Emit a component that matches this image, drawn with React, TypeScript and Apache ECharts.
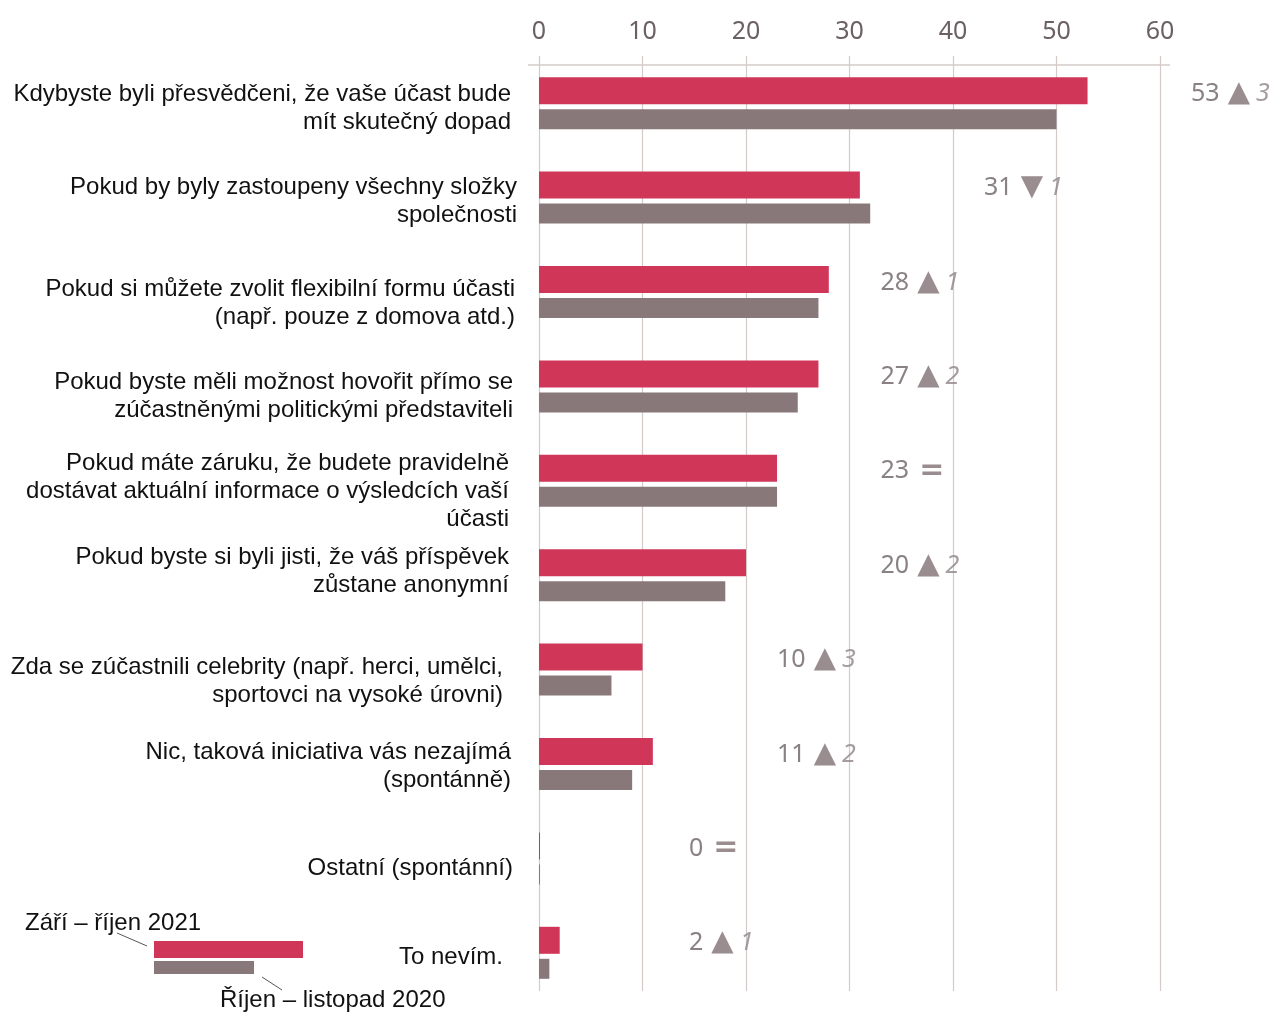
import React, { useEffect, useRef } from "react";
import * as echarts from "echarts";

const categories = [
  "Kdybyste byli přesvědčeni, že vaše účast bude\nmít skutečný dopad",
  "Pokud by byly zastoupeny všechny složky\nspolečnosti",
  "Pokud si můžete zvolit flexibilní formu účasti\n(např. pouze z domova atd.)",
  "Pokud byste měli možnost hovořit přímo se\nzúčastněnými politickými představiteli",
  "Pokud máte záruku, že budete pravidelně\ndostávat aktuální informace o výsledcích vaší\núčasti",
  "Pokud byste si byli jisti, že váš příspěvek\nzůstane anonymní",
  "Zda se zúčastnili celebrity (např. herci, umělci,\nsportovci na vysoké úrovni)",
  "Nic, taková iniciativa vás nezajímá\n(spontánně)",
  "Ostatní (spontánní)",
  "To nevím.",
];
const values2021 = [53, 31, 28, 27, 23, 20, 10, 11, 0, 2];
const values2020 = [50, 32, 27, 25, 23, 18, 7, 9, 0, 1];
const seriesNames = ["Září – říjen 2021", "Říjen – listopad 2020"];
const xMin = 0;
const xMax = 60;
const xStep = 10;

// layout nudges for the category labels (pixels: down, left)
const labelShiftDown = [3, 2, 9, 8, 9, -6, 10, 0, 8, 3];
const labelShiftLeft = [6, 0, 2, 4, 8, 8, 14, 6, 4, 14];

const RED = "#cf3658";
const GREY = "#88787a";
const GRID_C = "#d4cbc9";
const TICK_TXT = "#6b6163";
const LABEL_TXT = "#111111";
const MARK_C = "#7f7173";

export default function App() {
  const ref = useRef<HTMLDivElement>(null);
  useEffect(() => {
    if (!ref.current) return;
    const chart = echarts.init(ref.current, null, { renderer: "svg" });

    const annotations = values2021.map((v, i) => {
      const top = Math.max(v, values2020[i]);
      const anchor = Math.max((Math.floor(top / xStep) + 1) * xStep + 3, 14.5);
      return [anchor, i];
    });

    const fmt = (p: any) => {
      const i = p.dataIndex;
      const d = values2021[i] - values2020[i];
      const sym = d > 0 ? "{tri|▲}" : d < 0 ? "{tri|▼}" : "{eq|=}";
      const dt = d === 0 ? "" : "{d|" + Math.abs(d) + "}";
      return "{v|" + values2021[i] + "}" + sym + dt;
    };

    const yData = categories.map((c, i) => ({
      value: c,
      textStyle: { padding: [0, labelShiftLeft[i], 0, 0] },
    }));

    const labelRich: Record<string, any> = {
      t: {
        fontFamily: "Liberation Sans, Arial",
        fontSize: 24,
        lineHeight: 28,
        color: LABEL_TXT,
        align: "right",
      },
    };
    labelShiftDown.forEach((s, i) => {
      labelRich["s" + i] = {
        fontSize: 1,
        lineHeight: Math.max(1, Math.abs(2 * s)),
        color: "rgba(0,0,0,0)",
      };
    });

    const labelFormatter = (value: string) => {
      const i = categories.indexOf(value);
      const s = labelShiftDown[i] || 0;
      const lines = value.split("\n").map((l) => "{t|" + l + "}");
      if (s > 0) lines.unshift("{s" + i + "| }");
      else if (s < 0) lines.push("{s" + i + "| }");
      return lines.join("\n");
    };

    chart.setOption({
      animation: false,
      grid: { left: 539, right: 115, top: 56, height: 944 },
      xAxis: {
        type: "value",
        position: "top",
        min: xMin,
        max: xMax,
        interval: xStep,
        axisLine: { show: false },
        axisTick: { show: false },
        splitLine: { show: true, lineStyle: { color: GRID_C, width: 1.2 } },
        axisLabel: {
          color: TICK_TXT,
          fontFamily: "Noto Sans",
          fontSize: 25,
          margin: 15,
        },
      },
      yAxis: {
        type: "category",
        inverse: true,
        data: yData,
        axisLine: { show: false },
        axisTick: { show: false },
        axisLabel: {
          color: LABEL_TXT,
          fontFamily: "Liberation Sans, Arial",
          fontSize: 24,
          lineHeight: 28,
          margin: 22,
          align: "right",
          formatter: labelFormatter,
          rich: labelRich,
        },
      },
      series: [
        {
          type: "bar",
          name: seriesNames[0],
          data: values2021,
          barWidth: 27,
          barGap: "18.5%",
          barMinHeight: 1,
          itemStyle: { color: RED },
        },
        {
          type: "bar",
          name: seriesNames[1],
          data: values2020,
          barWidth: 20,
          barMinHeight: 1,
          itemStyle: { color: GREY },
        },
        {
          type: "scatter",
          data: annotations,
          symbolSize: 0,
          clip: false,
          silent: true,
          z: 5,
          label: {
            show: true,
            position: "right",
            distance: 0,
            offset: [0, -12.5],
            formatter: fmt,
            rich: {
              v: { fontFamily: "Noto Sans", fontSize: 25, color: TICK_TXT },
              tri: {
                fontFamily: "DejaVu Sans",
                fontSize: 29,
                color: MARK_C,
                padding: [0, 6, 0, 8],
              },
              eq: {
                fontFamily: "DejaVu Sans",
                fontSize: 30,
                fontWeight: "bold",
                color: MARK_C,
                padding: [0, 0, 0, 10],
              },
              d: {
                fontFamily: "Noto Sans",
                fontSize: 25,
                fontStyle: "italic",
                color: "#8f8587",
              },
            },
          },
        },
      ],
      graphic: [
        {
          type: "line",
          shape: { x1: 528, y1: 65, x2: 1170, y2: 65 },
          style: { stroke: GRID_C, lineWidth: 1.5 },
          z: 10,
        },
        {
          type: "rect",
          shape: { x: 528, y: 991, width: 660, height: 21 },
          style: { fill: "#ffffff" },
          z: 100,
        },
        {
          type: "text",
          x: 25,
          y: 921,
          style: {
            text: seriesNames[0],
            fontFamily: "Liberation Sans, Arial",
            fontSize: 24,
            fill: LABEL_TXT,
            verticalAlign: "middle",
          },
        },
        {
          type: "line",
          shape: { x1: 117, y1: 933, x2: 147, y2: 946 },
          style: { stroke: "#555555", lineWidth: 1 },
        },
        {
          type: "rect",
          shape: { x: 154, y: 941, width: 149, height: 17 },
          style: { fill: RED },
        },
        {
          type: "rect",
          shape: { x: 154, y: 961, width: 100, height: 13 },
          style: { fill: GREY },
        },
        {
          type: "line",
          shape: { x1: 262, y1: 977, x2: 282, y2: 990 },
          style: { stroke: "#555555", lineWidth: 1 },
        },
        {
          type: "text",
          x: 220,
          y: 998,
          style: {
            text: seriesNames[1],
            fontFamily: "Liberation Sans, Arial",
            fontSize: 24,
            fill: LABEL_TXT,
            verticalAlign: "middle",
          },
        },
      ],
    });
    return () => chart.dispose();
  }, []);
  return (
    <div
      ref={ref}
      style={{ position: "fixed", left: 0, top: 0, width: 1275, height: 1012 }}
    />
  );
}
